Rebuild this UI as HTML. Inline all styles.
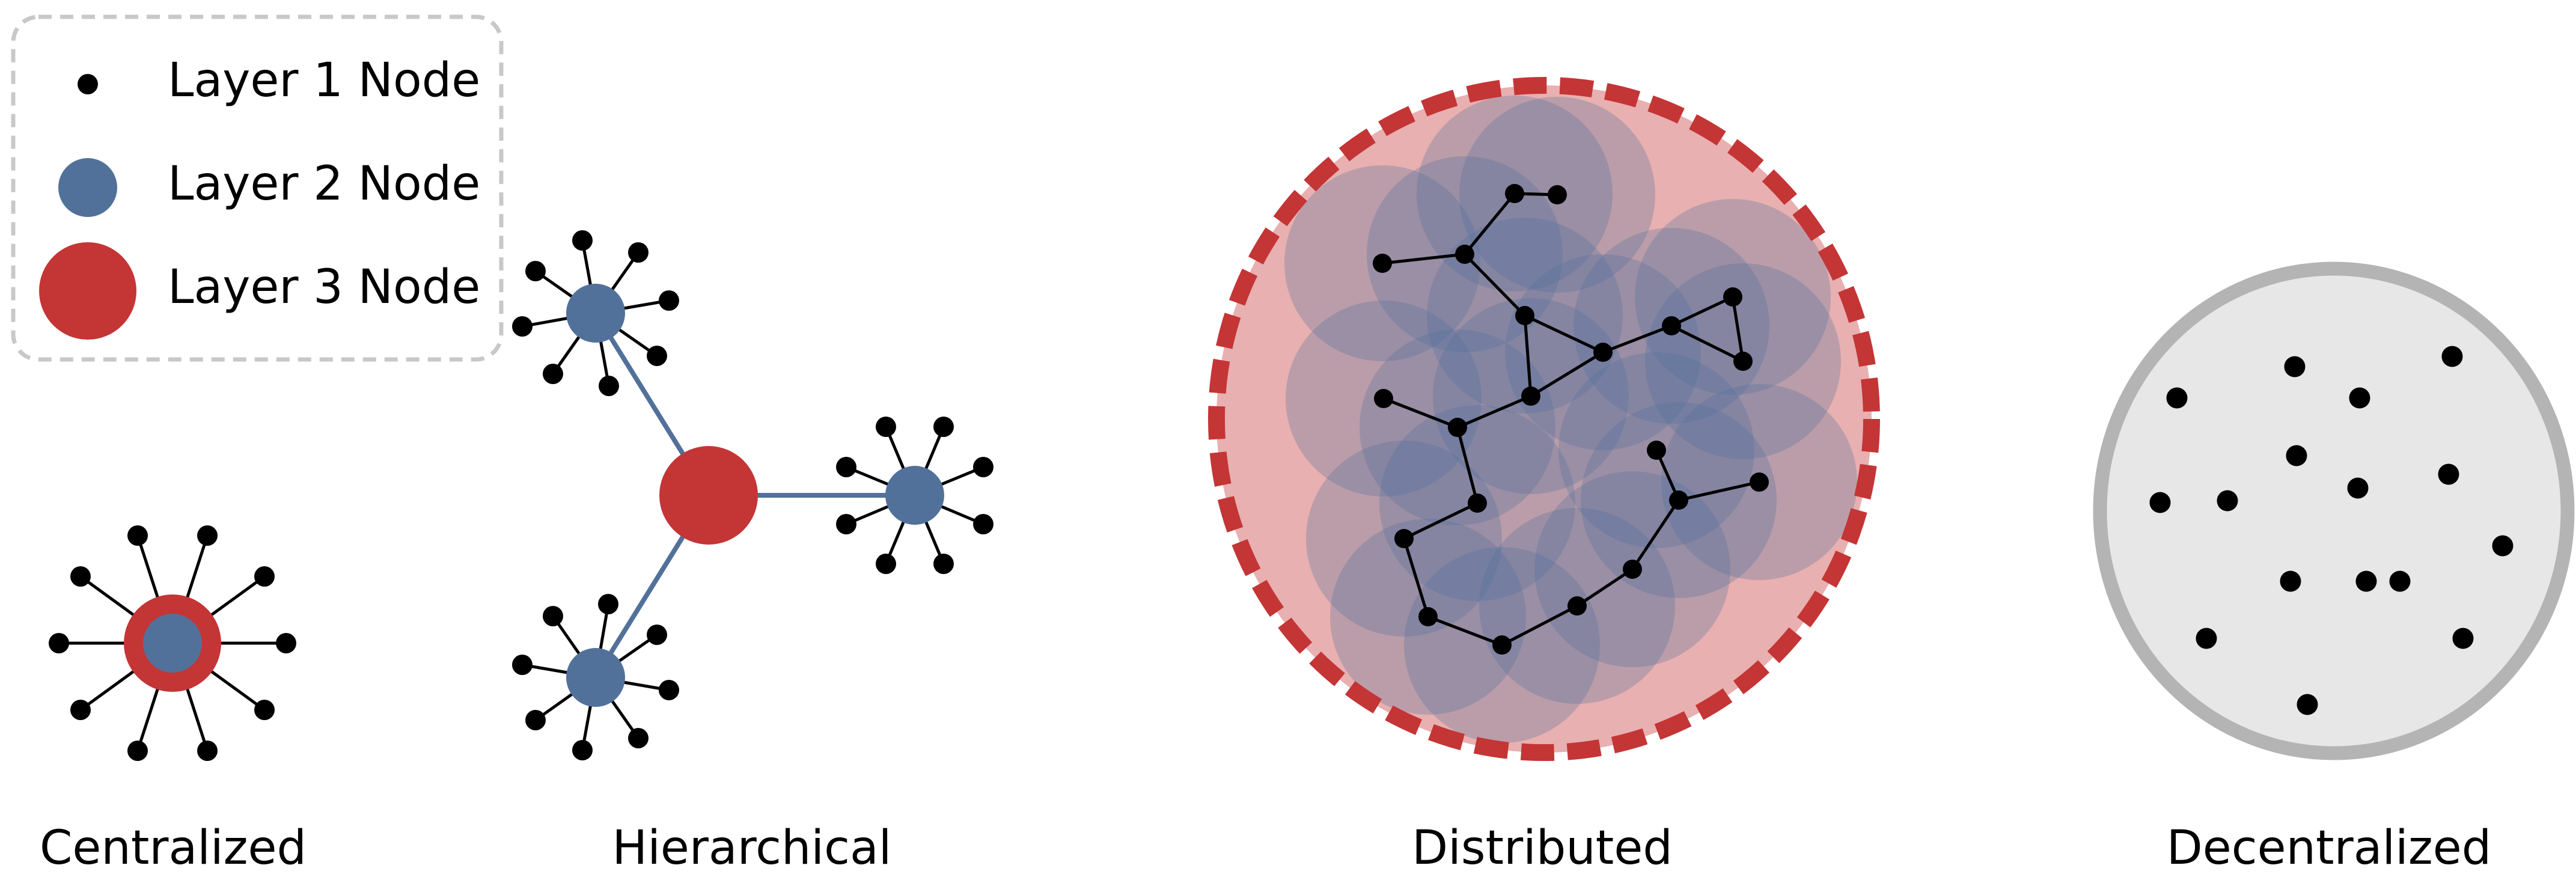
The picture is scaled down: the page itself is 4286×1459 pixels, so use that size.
<!DOCTYPE html>
<html><head><meta charset="utf-8"><style>html,body{margin:0;padding:0;background:#fff}svg{display:block}</style></head>
<body>
<svg width="4286" height="1459" viewBox="0 0 4286 1459" xmlns="http://www.w3.org/2000/svg" font-family="'DejaVu Sans','Liberation Sans',sans-serif">
<!-- Legend -->
<rect x="22" y="28" width="812" height="570" rx="42" ry="42" fill="none" stroke="#c8c8c8" stroke-width="7" stroke-dasharray="22,14"/>
<circle cx="146" cy="140" r="17" fill="#000"/>
<circle cx="146" cy="312" r="49" fill="#52719a"/>
<circle cx="146" cy="484" r="81" fill="#c43536"/>
<g font-size="78" fill="#000">
<text x="279" y="160">Layer 1 Node</text>
<text x="279" y="332">Layer 2 Node</text>
<text x="279" y="504">Layer 3 Node</text>
</g>
<!-- Centralized -->
<g stroke="#000" stroke-width="5">
<line x1="287" y1="1070" x2="476" y2="1070"/><line x1="287" y1="1070" x2="440" y2="959"/><line x1="287" y1="1070" x2="345" y2="891"/><line x1="287" y1="1070" x2="229" y2="891"/><line x1="287" y1="1070" x2="134" y2="959"/><line x1="287" y1="1070" x2="98" y2="1070"/><line x1="287" y1="1070" x2="134" y2="1181"/><line x1="287" y1="1070" x2="229" y2="1249"/><line x1="287" y1="1070" x2="345" y2="1249"/><line x1="287" y1="1070" x2="440" y2="1181"/>
</g>
<g fill="#000">
<circle cx="476" cy="1070" r="17"/><circle cx="440" cy="959" r="17"/><circle cx="345" cy="891" r="17"/><circle cx="229" cy="891" r="17"/><circle cx="134" cy="959" r="17"/><circle cx="98" cy="1070" r="17"/><circle cx="134" cy="1181" r="17"/><circle cx="229" cy="1249" r="17"/><circle cx="345" cy="1249" r="17"/><circle cx="440" cy="1181" r="17"/>
</g>
<circle cx="287" cy="1070" r="81" fill="#c43536"/>
<circle cx="287" cy="1070" r="49" fill="#52719a"/>
<!-- Hierarchical -->
<g stroke="#52719a" stroke-width="8"><line x1="1179" y1="824" x2="991" y2="521"/><line x1="1179" y1="824" x2="1522" y2="824"/><line x1="1179" y1="824" x2="991" y2="1127"/></g>
<g stroke="#000" stroke-width="5">
<line x1="991" y1="521" x2="969" y2="400"/><line x1="991" y1="521" x2="1062" y2="420"/><line x1="991" y1="521" x2="1113" y2="500"/><line x1="991" y1="521" x2="1093" y2="592"/><line x1="991" y1="521" x2="1013" y2="642"/><line x1="991" y1="521" x2="920" y2="622"/><line x1="991" y1="521" x2="869" y2="543"/><line x1="991" y1="521" x2="891" y2="451"/>
<line x1="991" y1="1127" x2="1012" y2="1005"/><line x1="991" y1="1127" x2="1093" y2="1056"/><line x1="991" y1="1127" x2="1113" y2="1148"/><line x1="991" y1="1127" x2="1062" y2="1228"/><line x1="991" y1="1127" x2="969" y2="1248"/><line x1="991" y1="1127" x2="891" y2="1198"/><line x1="991" y1="1127" x2="869" y2="1106"/><line x1="991" y1="1127" x2="920" y2="1025"/>
<line x1="1522" y1="824" x2="1474" y2="710"/><line x1="1522" y1="824" x2="1570" y2="710"/><line x1="1522" y1="824" x2="1408" y2="777"/><line x1="1522" y1="824" x2="1408" y2="872"/><line x1="1522" y1="824" x2="1474" y2="938"/><line x1="1522" y1="824" x2="1570" y2="938"/><line x1="1522" y1="824" x2="1636" y2="777"/><line x1="1522" y1="824" x2="1636" y2="872"/>
</g>
<g fill="#000">
<circle cx="969" cy="400" r="17"/><circle cx="1062" cy="420" r="17"/><circle cx="1113" cy="500" r="17"/><circle cx="1093" cy="592" r="17"/><circle cx="1013" cy="642" r="17"/><circle cx="920" cy="622" r="17"/><circle cx="869" cy="543" r="17"/><circle cx="891" cy="451" r="17"/>
<circle cx="1012" cy="1005" r="17"/><circle cx="1093" cy="1056" r="17"/><circle cx="1113" cy="1148" r="17"/><circle cx="1062" cy="1228" r="17"/><circle cx="969" cy="1248" r="17"/><circle cx="891" cy="1198" r="17"/><circle cx="869" cy="1106" r="17"/><circle cx="920" cy="1025" r="17"/>
<circle cx="1474" cy="710" r="17"/><circle cx="1570" cy="710" r="17"/><circle cx="1408" cy="777" r="17"/><circle cx="1408" cy="872" r="17"/><circle cx="1474" cy="938" r="17"/><circle cx="1570" cy="938" r="17"/><circle cx="1636" cy="777" r="17"/><circle cx="1636" cy="872" r="17"/>
</g>
<circle cx="991" cy="521" r="49" fill="#52719a"/><circle cx="1522" cy="824" r="49" fill="#52719a"/><circle cx="991" cy="1127" r="49" fill="#52719a"/>
<circle cx="1179" cy="824" r="82" fill="#c43536"/>
<!-- Distributed -->
<ellipse cx="2569" cy="697" rx="545" ry="555" fill="#e8b0b0"/>
<g fill="#52719a" fill-opacity="0.3">
<circle cx="2520" cy="322" r="163"/><circle cx="2591" cy="324" r="163"/><circle cx="2437" cy="423" r="163"/><circle cx="2300" cy="438" r="163"/><circle cx="2537" cy="525" r="163"/><circle cx="2667" cy="586" r="163"/><circle cx="2781" cy="542" r="163"/><circle cx="2883" cy="494" r="163"/><circle cx="2900" cy="601" r="163"/><circle cx="2547" cy="659" r="163"/><circle cx="2302" cy="663" r="163"/><circle cx="2425" cy="711" r="163"/><circle cx="2458" cy="837" r="163"/><circle cx="2336" cy="896" r="163"/><circle cx="2376" cy="1026" r="163"/><circle cx="2499" cy="1073" r="163"/><circle cx="2624" cy="1008" r="163"/><circle cx="2716" cy="947" r="163"/><circle cx="2793" cy="832" r="163"/><circle cx="2756" cy="749" r="163"/><circle cx="2927" cy="802" r="163"/>
</g>
<ellipse cx="2569" cy="697" rx="545" ry="555" fill="none" stroke="#c43536" stroke-width="28" stroke-dasharray="55,22"/>
<polyline fill="none" stroke="#000" stroke-width="5" points="2591,324 2520,322 2437,423 2300,438"/>
<polyline fill="none" stroke="#000" stroke-width="5" points="2437,423 2537,525 2667,586 2781,542 2883,494 2900,601 2781,542"/>
<polyline fill="none" stroke="#000" stroke-width="5" points="2537,525 2547,659 2667,586"/>
<polyline fill="none" stroke="#000" stroke-width="5" points="2547,659 2425,711 2302,663"/>
<polyline fill="none" stroke="#000" stroke-width="5" points="2425,711 2458,837 2336,896 2376,1026 2499,1073 2624,1008 2716,947 2793,832 2756,749"/>
<polyline fill="none" stroke="#000" stroke-width="5" points="2793,832 2927,802"/>
<g fill="#000">
<circle cx="2520" cy="322" r="16"/><circle cx="2591" cy="324" r="16"/><circle cx="2437" cy="423" r="16"/><circle cx="2300" cy="438" r="16"/><circle cx="2537" cy="525" r="16"/><circle cx="2667" cy="586" r="16"/><circle cx="2781" cy="542" r="16"/><circle cx="2883" cy="494" r="16"/><circle cx="2900" cy="601" r="16"/><circle cx="2547" cy="659" r="16"/><circle cx="2302" cy="663" r="16"/><circle cx="2425" cy="711" r="16"/><circle cx="2458" cy="837" r="16"/><circle cx="2336" cy="896" r="16"/><circle cx="2376" cy="1026" r="16"/><circle cx="2499" cy="1073" r="16"/><circle cx="2624" cy="1008" r="16"/><circle cx="2716" cy="947" r="16"/><circle cx="2793" cy="832" r="16"/><circle cx="2756" cy="749" r="16"/><circle cx="2927" cy="802" r="16"/>
</g>
<!-- Decentralized -->
<ellipse cx="3883" cy="850" rx="389" ry="403" fill="#e7e7e7" stroke="#b4b4b4" stroke-width="23"/>
<g fill="#000">
<circle cx="3818" cy="610" r="17.5"/><circle cx="4080" cy="593" r="17.5"/><circle cx="3622" cy="662" r="17.5"/><circle cx="3926" cy="662" r="17.5"/><circle cx="3821" cy="758" r="17.5"/><circle cx="4074" cy="789" r="17.5"/><circle cx="3923" cy="812" r="17.5"/><circle cx="3594" cy="836" r="17.5"/><circle cx="3706" cy="833" r="17.5"/><circle cx="4164" cy="908" r="17.5"/><circle cx="3811" cy="967" r="17.5"/><circle cx="3937" cy="967" r="17.5"/><circle cx="3993" cy="967" r="17.5"/><circle cx="3671" cy="1062" r="17.5"/><circle cx="4098" cy="1062" r="17.5"/><circle cx="3839" cy="1172" r="17.5"/>
</g>
<!-- Captions -->
<g font-size="78" fill="#000" text-anchor="middle">
<text x="288" y="1437">Centralized</text>
<text x="1251" y="1437">Hierarchical</text>
<text x="2566" y="1437">Distributed</text>
<text x="3875" y="1437">Decentralized</text>
</g>
</svg>
</body></html>
